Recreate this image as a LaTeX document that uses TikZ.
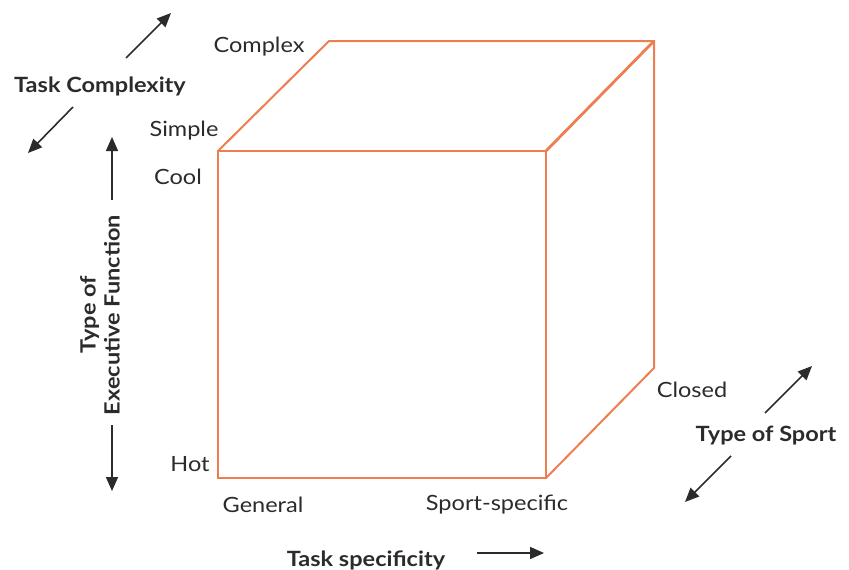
\documentclass[tikz,border=0pt]{standalone}
\usepackage{fontspec}
\setmainfont[FakeStretch=1.12]{Lato}
\usetikzlibrary{arrows.meta}
\definecolor{cubeline}{HTML}{EE7E50}
\definecolor{ink}{HTML}{2B2B2B}
\tikzset{
  edge/.style={draw=cubeline, line width=2pt, line join=miter},
  axis/.style={draw=ink, line width=1.6pt, -{Triangle[length=14pt,width=12pt]}},
  tick/.style={text=ink, font=\fontsize{21}{24}\selectfont, inner sep=0pt},
  title/.style={text=ink, font=\bfseries\fontsize{21}{24}\selectfont, inner sep=0pt, align=center},
}
\begin{document}
\begin{tikzpicture}[x=1pt, y=-1pt]
\useasboundingbox (0,0) rectangle (849,570);

% cube corners
\coordinate (ftl) at (218,151);
\coordinate (ftr) at (546,151);
\coordinate (fbl) at (218,478);
\coordinate (fbr) at (546,478);
\coordinate (btl) at (329,41);
\coordinate (btr) at (654,41);
\coordinate (bbr) at (654,368);

% front face and visible depth edges
\draw[edge] (ftl) rectangle (fbr);
\draw[edge] (ftl) -- (btl) -- (btr) -- (bbr) -- (fbr);
\draw[edge, line width=2.8pt] (ftr) -- (btr);

% value labels
\node[tick] (complex) at (259,47) {Complex};
\node[tick] (simple) at (184,131) {Simple};
\node[tick] (cool) at (178,177) {Cool};
\node[tick] (hot) at (190,464) {Hot};
\node[tick] (general) at (263,505) {General};
\node[tick] (sport) at (497,505) {Sport-specific};
\node[tick] (closed) at (692,390) {Closed};

% axis titles
\node[title] (tc) at (100,86) {Task Complexity};
\node[title] (ts) at (766,436) {Type of Sport};
\node[title] (tspec) at (366,560) {Task specificity};
\node[title, rotate=90] (tef) at (100,315) {Type of\\Executive Function};

% axis arrows
\coordinate (tcA) at (126,58);  \coordinate (tcB) at (171,13);
\coordinate (tcC) at (73,107);  \coordinate (tcD) at (28,153);
\draw[axis] (tcA) -- (tcB);
\draw[axis] (tcC) -- (tcD);

\coordinate (efA) at (112,200); \coordinate (efB) at (112,137);
\coordinate (efC) at (112,425); \coordinate (efD) at (112,491);
\draw[axis] (efA) -- (efB);
\draw[axis] (efC) -- (efD);

\coordinate (spA) at (477,553); \coordinate (spB) at (544,553);
\draw[axis] (spA) -- (spB);

\coordinate (soA) at (765,413); \coordinate (soB) at (812,366);
\coordinate (soC) at (731,456); \coordinate (soD) at (685,502);
\draw[axis] (soA) -- (soB);
\draw[axis] (soC) -- (soD);
\end{tikzpicture}
\end{document}
